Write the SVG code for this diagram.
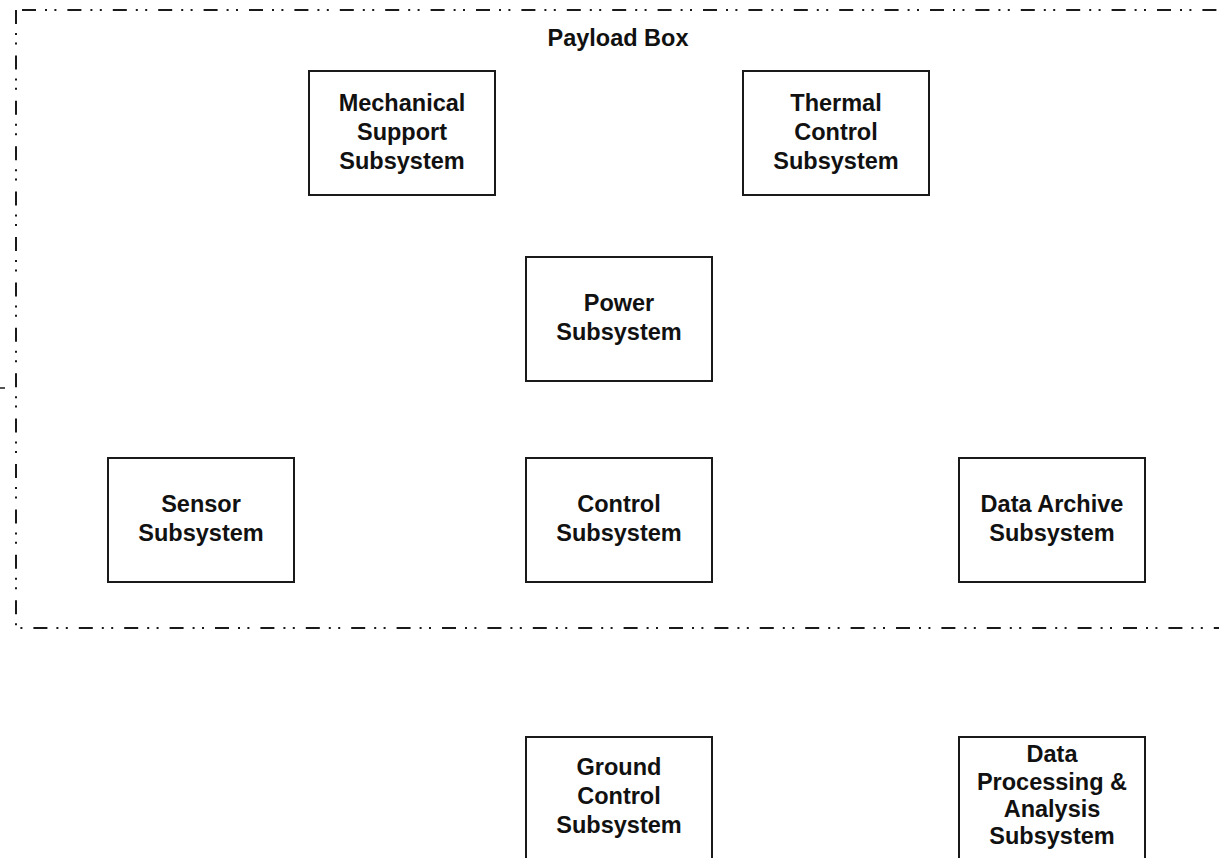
<svg xmlns="http://www.w3.org/2000/svg" width="1219" height="858" viewBox="0 0 1219 858">
<style>
.box{fill:#fff;stroke:#1a1a1a;stroke-width:2}
.t{font-family:"Liberation Sans",Arial,sans-serif;font-weight:bold;font-size:23.5px;fill:#111;text-anchor:middle}
.border{fill:none;stroke:#1a1a1a;stroke-width:2;stroke-dasharray:14 9 2 7.4 2 11}
</style>
<rect width="1219" height="858" fill="#fff"/>
<g id="payload-box">
<line class="border" x1="22" y1="10" x2="1230" y2="10"/>
<line class="border" x1="16" y1="10" x2="16" y2="628"/>
<line class="border" x1="16" y1="628" x2="1230" y2="628" stroke-dashoffset="28"/>
<text class="t" x="618" y="46">Payload Box</text>
</g>
<g id="connectors">
<line x1="0" y1="388" x2="5" y2="388" stroke="#1a1a1a" stroke-width="1.5"/>
</g>
<g id="mechanical">
<rect class="box" x="309" y="71" width="186" height="124"/>
<text class="t" x="402" y="111">Mechanical</text>
<text class="t" x="402" y="140">Support</text>
<text class="t" x="402" y="169">Subsystem</text>
</g>
<g id="thermal">
<rect class="box" x="743" y="71" width="186" height="124"/>
<text class="t" x="836" y="111">Thermal</text>
<text class="t" x="836" y="140">Control</text>
<text class="t" x="836" y="169">Subsystem</text>
</g>
<g id="power">
<rect class="box" x="526" y="257" width="186" height="124"/>
<text class="t" x="619" y="311">Power</text>
<text class="t" x="619" y="340">Subsystem</text>
</g>
<g id="sensor">
<rect class="box" x="108" y="458" width="186" height="124"/>
<text class="t" x="201" y="512">Sensor</text>
<text class="t" x="201" y="541">Subsystem</text>
</g>
<g id="control">
<rect class="box" x="526" y="458" width="186" height="124"/>
<text class="t" x="619" y="512">Control</text>
<text class="t" x="619" y="541">Subsystem</text>
</g>
<g id="data-archive">
<rect class="box" x="959" y="458" width="186" height="124"/>
<text class="t" x="1052" y="512">Data Archive</text>
<text class="t" x="1052" y="541">Subsystem</text>
</g>
<g id="ground-control">
<rect class="box" x="526" y="737" width="186" height="124"/>
<text class="t" x="619" y="775">Ground</text>
<text class="t" x="619" y="804">Control</text>
<text class="t" x="619" y="833">Subsystem</text>
</g>
<g id="data-processing">
<rect class="box" x="959" y="737" width="186" height="124"/>
<text class="t" x="1052" y="762">Data</text>
<text class="t" x="1052" y="790">Processing &amp;</text>
<text class="t" x="1052" y="817">Analysis</text>
<text class="t" x="1052" y="844">Subsystem</text>
</g>
</svg>
